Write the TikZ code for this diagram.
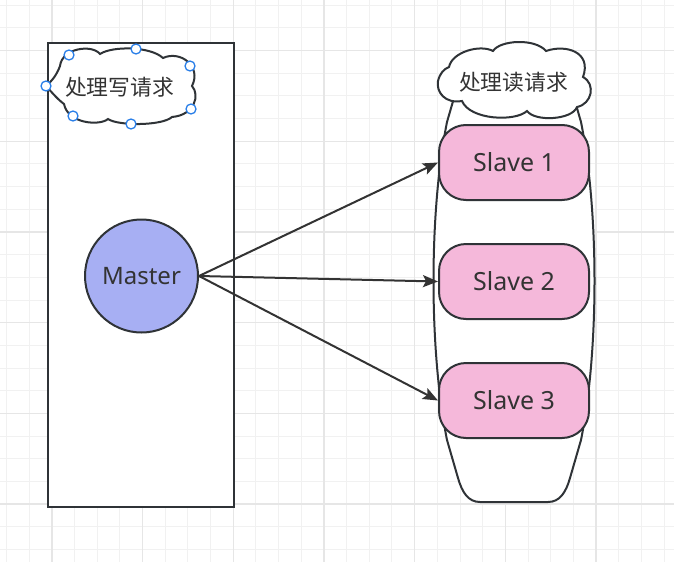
\documentclass[tikz,border=0pt]{standalone}
\usepackage{fontspec}
\setmainfont{Noto Sans}
\newfontfamily\cjk{Noto Sans CJK SC}
\usetikzlibrary{arrows.meta}
\definecolor{ink}{HTML}{2F3337}
\definecolor{txt}{HTML}{333333}
\definecolor{gminor}{HTML}{F1F1F1}
\definecolor{gmajor}{HTML}{E6E6E6}
\definecolor{masterfill}{HTML}{A7AFF3}
\definecolor{slavefill}{HTML}{F5B8DA}
\definecolor{handle}{HTML}{2A7FE8}
\tikzset{
  gridminor/.style={draw=gminor, line width=1pt},
  gridmajor/.style={draw=gmajor, line width=1.2pt},
  outline/.style={draw=ink, line width=2pt},
  slavebox/.style={outline, fill=slavefill, rounded corners=27pt, minimum width=150pt, minimum height=75pt, inner sep=0pt, text=txt, font=\fontsize{25}{28}\selectfont},
  masternode/.style={outline, fill=masterfill, circle, minimum size=113pt, inner sep=0pt, text=txt, font=\fontsize{24}{27}\selectfont},
  cloudtext/.style={text=txt, inner sep=0pt, font=\cjk\fontsize{21.8}{24}\selectfont},
  arr/.style={draw=txt, line width=2pt, -{Stealth[length=15pt, width=12pt, inset=3pt]}},
  handledot/.style={draw=handle, fill=white, line width=1.3pt},
}
\begin{document}
\begin{tikzpicture}[x=1pt, y=-1pt]
\useasboundingbox (0,0) rectangle (674,562);
% grid
\foreach \i in {0,...,29} {
  \draw[gridminor] ({6.6+22.67*\i},0) -- ++(0,562);
  \draw[gridminor] (0,{5.3+22.67*\i}) -- ++(674,0);
}
\foreach \i in {0,...,7} {
  \draw[gridmajor] ({51.9+90.68*\i - 90.68},0) -- ++(0,562);
  \draw[gridmajor] (0,{50.6+90.68*\i - 90.68}) -- ++(674,0);
}
% master box
\node[outline, fill=white, minimum width=186pt, minimum height=464pt, inner sep=0pt] (mbox) at (141,275) {};
% slave container
\draw[outline, fill=white]
  (480,502) .. controls (468,502) and (462,492) .. (458,478) -- (447,440)
  .. controls (429,350) and (429,212) .. (447,122) -- (458,84)
  .. controls (462,70) and (468,60) .. (480,60) -- (548,60)
  .. controls (560,60) and (566,70) .. (570,84) -- (581,122)
  .. controls (599,212) and (599,350) .. (581,440) -- (570,478)
  .. controls (566,492) and (560,502) .. (548,502) -- cycle;
% left cloud
\draw[outline, fill=white]
  (46,86) .. controls (53,80) and (57,74) .. (60,66)
  .. controls (62,48) and (92,44) .. (100,54)
  .. controls (112,46) and (150,46) .. (163,58)
  .. controls (180,50) and (202,66) .. (192,86)
  .. controls (200,95) and (195,115) .. (172,117)
  .. controls (162,126) and (118,126) .. (108,119)
  .. controls (100,126) and (68,124) .. (64,104)
  .. controls (56,98) and (50,90) .. (46,86) -- cycle;
\node[cloudtext] (wtext) at (119.5,87.5) {处理写请求};
% right cloud
\draw[outline, fill=white]
  (438,81) .. controls (440,73) and (444,69) .. (449,67)
  .. controls (452,52) and (480,44) .. (493,51)
  .. controls (500,40) and (535,38) .. (546,51)
  .. controls (566,44) and (592,52) .. (583,77)
  .. controls (596,84) and (592,104) .. (577,107)
  .. controls (572,120) and (535,122) .. (527,111)
  .. controls (515,122) and (470,120) .. (462,101)
  .. controls (445,104) and (436,92) .. (438,81) -- cycle;
\node[cloudtext] (rtext) at (513.5,82.5) {处理读请求};
% slaves
\node[slavebox] (s1) at (514,162.5) {Slave 1};
\node[slavebox] (s2) at (514,281.5) {Slave 2};
\node[slavebox] (s3) at (514,400.5) {Slave 3};
% master
\node[masternode] (master) at (141.5,276) {Master};
% arrows
\draw[arr] (master.east) -- (s1.west);
\draw[arr] (master.east) -- (s2.west);
\draw[arr] (master.east) -- (s3.west);
% selection handles
\foreach \p/\q in {69/55, 136/49, 190/66, 46/86, 191/109, 73/116, 131/124}
  \draw[handledot] (\p,\q) circle (5pt);
\end{tikzpicture}
\end{document}
